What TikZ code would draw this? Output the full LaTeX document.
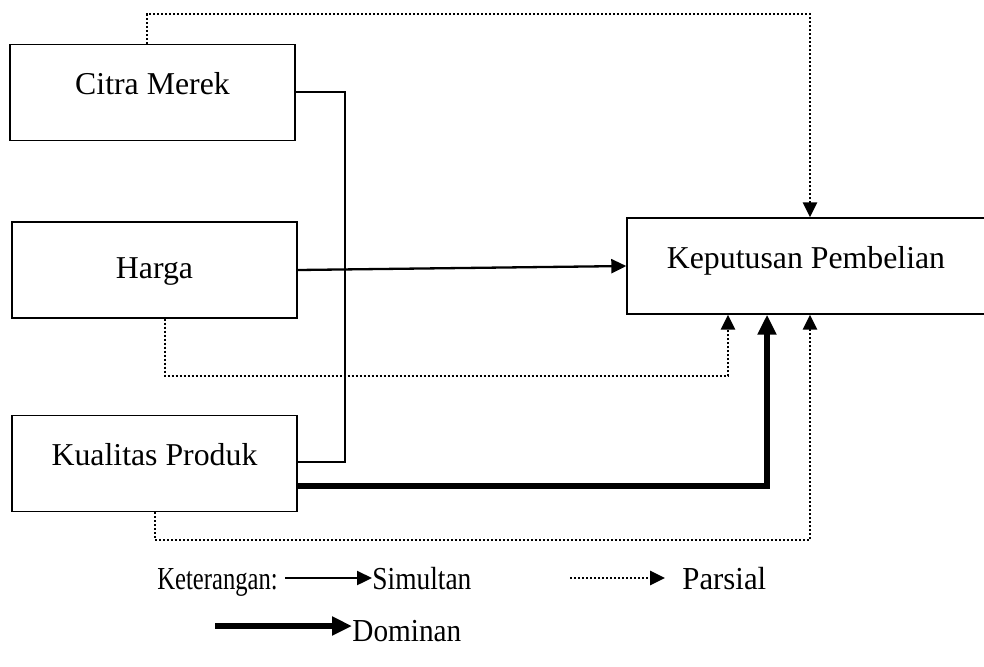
\documentclass[tikz,border=0pt]{standalone}
\usepackage{fontspec}
\setmainfont{Liberation Serif}
\usepackage{tikz}
\usetikzlibrary{arrows.meta, positioning, calc}
\newcommand{\legtxt}[2]{\scalebox{#1}[1.04]{#2}}
\tikzset{
    % Variables
    varbox/.style={rectangle, draw=black, line width=0.7pt, fill=white,
                minimum height=48pt, align=center,
                text height=11pt, text depth=9pt,
                font=\fontsize{15.9}{18}\selectfont},
    % Connectors
    simline/.style={line width=1.15pt, black},
    parline/.style={line width=1.4pt, black, dash pattern=on 1.1pt off 0.9pt},
    domline/.style={line width=3pt, black},
    simtip/.style={-{Triangle[length=7.5pt, width=7pt]}},
    domtip/.style={-{Triangle[length=10pt, width=9pt]}},
    % Legend
    legtext/.style={inner sep=0pt, anchor=base west,
                font=\fontsize{15.4}{18}\selectfont},
}

\begin{document}
\begin{tikzpicture}[x=0.5pt, y=-0.5pt]
\useasboundingbox (0,0) rectangle (984,666);

\node[varbox, minimum width=142.5pt] (cm)  at (152.5,92.5) {Citra Merek};
\node[varbox, minimum width=142.5pt, text height=14pt, text depth=6pt]
    (hg)  at (154.5,270)  {Harga};
\node[varbox, minimum width=142.5pt] (kp)  at (154.5,463.5) {Kualitas Produk};
\node[varbox, minimum width=179pt]   (kpb) at (806,266)    {Keputusan Pembelian};

% simultan
\coordinate (sj1) at (345,92);
\coordinate (sj2) at (345,462);
\draw[simline] (cm.east |- sj1) -- (sj1) -- (sj2) -- (kp.east |- sj2);
\draw[simline, simtip] (hg.east) -- (kpb.west);

% parsial
\coordinate (cmt) at (147,14);
\coordinate (cmr) at (810,14);
\draw[parline, simtip] (cmt |- cm.north) -- (cmt) -- (cmr) -- (cmr |- kpb.north);
\coordinate (hgl) at (165,376);
\coordinate (hgr) at (728,376);
\draw[parline, simtip] (hgl |- hg.south) -- (hgl) -- (hgr) -- (hgr |- kpb.south);
\coordinate (kpl) at (155,540);
\coordinate (kpr) at (810,540);
\draw[parline, simtip] (kpl |- kp.south) -- (kpl) -- (kpr) -- (kpr |- kpb.south);

% dominan
\coordinate (dm) at (767,486);
\draw[domline, domtip] (kp.east |- dm) -- (dm) -- (dm |- kpb.south);

% legend
\node[legtext] (ket)  at (157,589) {\legtxt{0.8}{Keterangan:}};
\node[legtext] (simu) at (372,589) {\legtxt{0.89}{Simultan}};
\node[legtext] (pars) at (682,589) {\legtxt{1}{Parsial}};
\node[legtext] (domi) at (352,641) {\legtxt{0.95}{Dominan}};
\coordinate (ls) at (285,578);
\coordinate (lp) at (570,578);
\coordinate (lpe) at (665,578);
\coordinate (ld) at (215,626);
\draw[simline, simtip] (ls) -- (ls -| simu.west);
\draw[parline, simtip] (lp) -- (lpe);
\draw[domline, domtip] (ld) -- (ld -| domi.west);
\end{tikzpicture}
\end{document}
